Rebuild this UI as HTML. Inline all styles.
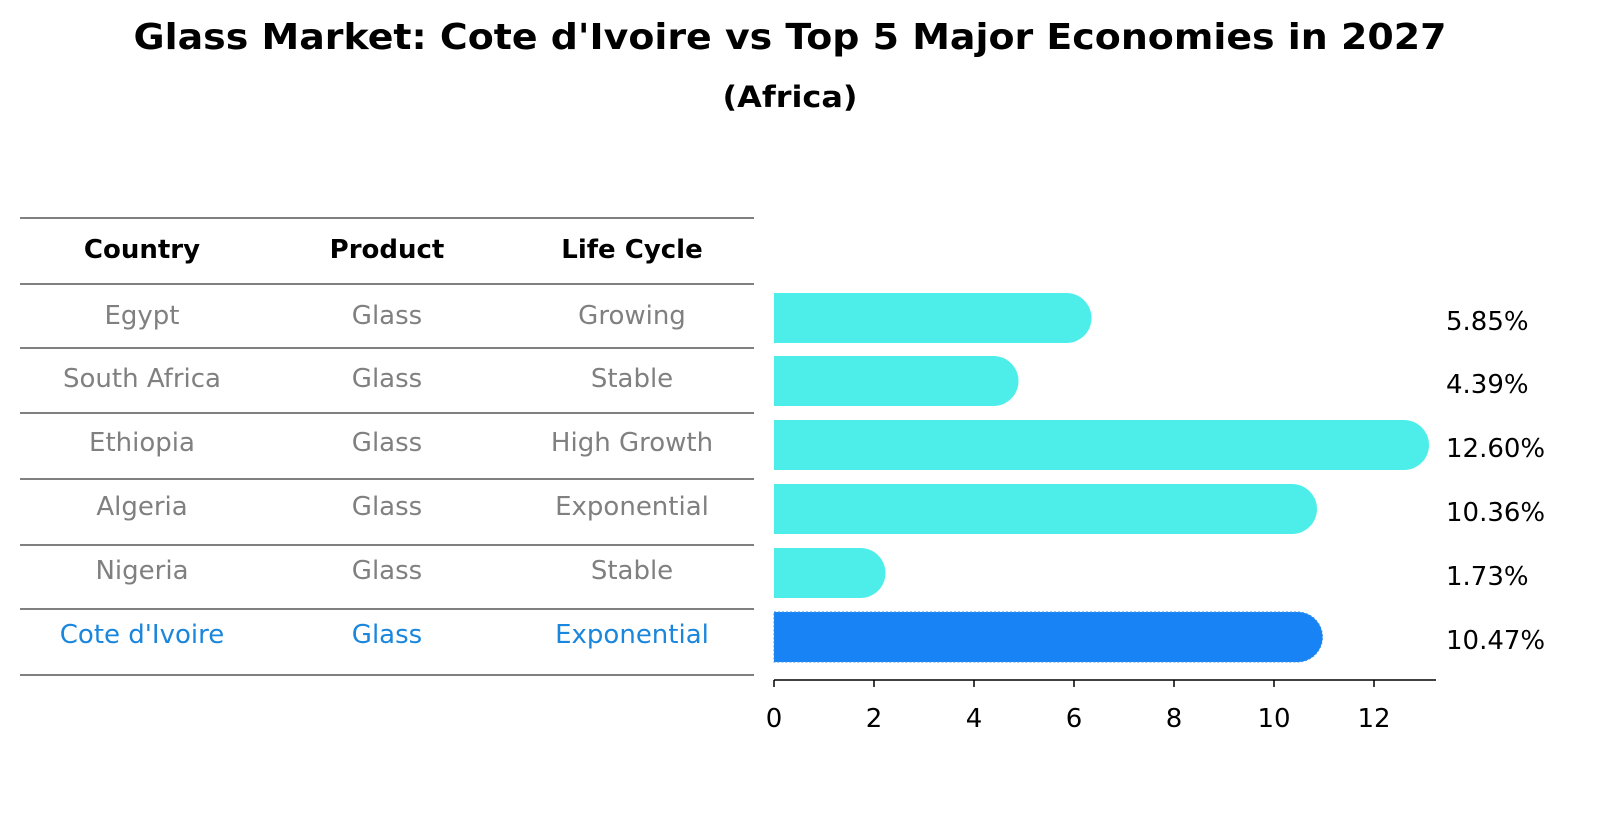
<!DOCTYPE html>
<html><head><meta charset="utf-8"><style>
body{margin:0;background:#fff;font-family:"Liberation Sans","DejaVu Sans",sans-serif;}
</style></head><body>
<svg width="1604" height="823" xmlns="http://www.w3.org/2000/svg" font-family="DejaVu Sans, Liberation Sans, sans-serif">
<text x="790" y="49" text-anchor="middle" font-size="36" font-weight="bold" textLength="1313" lengthAdjust="spacingAndGlyphs">Glass Market: Cote d'Ivoire vs Top 5 Major Economies in 2027</text>
<text x="790" y="107" text-anchor="middle" font-size="29" font-weight="bold" textLength="135" lengthAdjust="spacingAndGlyphs">(Africa)</text>
<g id="table"></g>
<g id="bars"></g>
</svg>
<script>
const countries=["Egypt","South Africa","Ethiopia","Algeria","Nigeria","Cote d'Ivoire"];
const products=["Glass","Glass","Glass","Glass","Glass","Glass"];
const lifecycles=["Growing","Stable","High Growth","Exponential","Stable","Exponential"];
const values=[5.85,4.39,12.60,10.36,1.73,10.47];
const ticks=[0,2,4,6,8,10,12];
const NS="http://www.w3.org/2000/svg";
function mk(tag,attrs,parent,txt){const e=document.createElementNS(NS,tag);for(const k in attrs)e.setAttribute(k,attrs[k]);if(txt!==undefined)e.textContent=txt;parent.appendChild(e);return e;}
const tbl=document.getElementById('table'), bars=document.getElementById('bars');
const lineYs=[218,284,348,413,479,545,609,675];
lineYs.forEach(y=>{const l=mk('line',{x1:20,x2:754,y1:y,y2:y,stroke:'#000','stroke-width':1},tbl);

});
const colX=[142,387,632];
["Country","Product","Life Cycle"].forEach((h,i)=>{const t=mk('text',{x:colX[i],y:258,'text-anchor':'middle','font-size':26,'font-weight':'bold'},tbl,h);

});
const rowC=[318,381,445,509,573,637];
countries.forEach((c,i)=>{const col=i===countries.length-1?'#1a86dc':'#808080';
[c,products[i],lifecycles[i]].forEach((v,j)=>{const t=mk('text',{x:colX[j],y:rowC[i]-3+9,'text-anchor':'middle','font-size':26,fill:col},tbl,v);

});});
const x0=774,pxPer=50,h=50;
const X=v=>x0+v*pxPer;
values.forEach((v,i)=>{const last=i===values.length-1;const y=rowC[i]-h/2;const xe=X(v);
const p=mk('path',{d:`M${x0},${y} H${xe} A25,25 0 0 1 ${xe},${y+h} H${x0} Z`,fill:last?'#1783f5':'#4deee9',stroke:last?'#3a8fe8':'none','stroke-dasharray':last?'2,2':'none'},bars);


const t=mk('text',{x:1446,y:rowC[i]+12,'font-size':26},bars,v.toFixed(2)+'%');

});
const ax=mk('line',{x1:x0,x2:1436,y1:680,y2:680,stroke:'#000','stroke-width':1.5},bars);


ticks.forEach(tv=>{const l=mk('line',{x1:X(tv),x2:X(tv),y1:680,y2:687,stroke:'#000','stroke-width':1.5},bars);


const t=mk('text',{x:X(tv),y:727,'text-anchor':'middle','font-size':26},bars,String(tv));

});
</script>
</body></html>
